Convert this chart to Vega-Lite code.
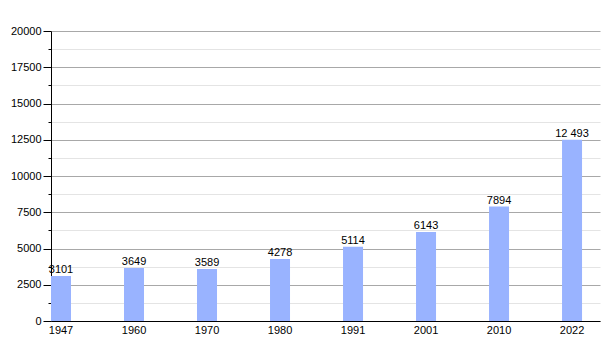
{
  "$schema": "https://vega.github.io/schema/vega-lite/v6.json",
  "autosize": {"type": "none"},
  "width": 549,
  "height": 290,
  "padding": {"left": 51, "top": 31, "right": 10, "bottom": 29},
  "background": "white",
  "config": {
    "view": {"stroke": null},
    "font": "Liberation Sans",
    "axis": {"labelFont": "Liberation Sans", "labelFontSize": 11, "labelColor": "#000", "domainColor": "#000", "domainWidth": 1}
  },
  "data": {
    "values": [
      {"year": "1947", "pop": 3101, "label": "3101"},
      {"year": "1960", "pop": 3649, "label": "3649"},
      {"year": "1970", "pop": 3589, "label": "3589"},
      {"year": "1980", "pop": 4278, "label": "4278"},
      {"year": "1991", "pop": 5114, "label": "5114"},
      {"year": "2001", "pop": 6143, "label": "6143"},
      {"year": "2010", "pop": 7894, "label": "7894"},
      {"year": "2022", "pop": 12493, "label": "12 493"}
    ]
  },
  "encoding": {
    "x": {
      "field": "year", "type": "ordinal", "sort": null,
      "scale": {"paddingInner": 0.726, "paddingOuter": 0.123, "align": 0},
      "axis": {"title": null, "labelAngle": 0, "ticks": false, "labelPadding": 3, "grid": false}
    },
    "y": {
      "field": "pop", "type": "quantitative",
      "scale": {"domain": [0, 20000], "nice": false},
      "axis": {
        "title": null,
        "values": [0,1250,2500,3750,5000,6250,7500,8750,10000,11250,12500,13750,15000,16250,17500,18750,20000],
        "format": "d",
        "labelExpr": "datum.value % 2500 === 0 ? datum.label : ''",
        "grid": true,
        "gridColor": {"condition": {"test": "datum.value % 2500 === 0", "value": "#a8a8a8"}, "value": "#e4e4e4"},
        "tickColor": "#000",
        "tickSize": {"condition": {"test": "datum.value % 2500 === 0", "value": 8}, "value": 3},
        "labelPadding": 2
      }
    }
  },
  "layer": [
    {"mark": {"type": "bar", "color": "#99b3ff"}},
    {
      "mark": {"type": "text", "baseline": "bottom", "dy": -1, "fontSize": 11, "color": "#000", "font": "Liberation Sans"},
      "encoding": {"text": {"field": "label"}}
    }
  ]
}
